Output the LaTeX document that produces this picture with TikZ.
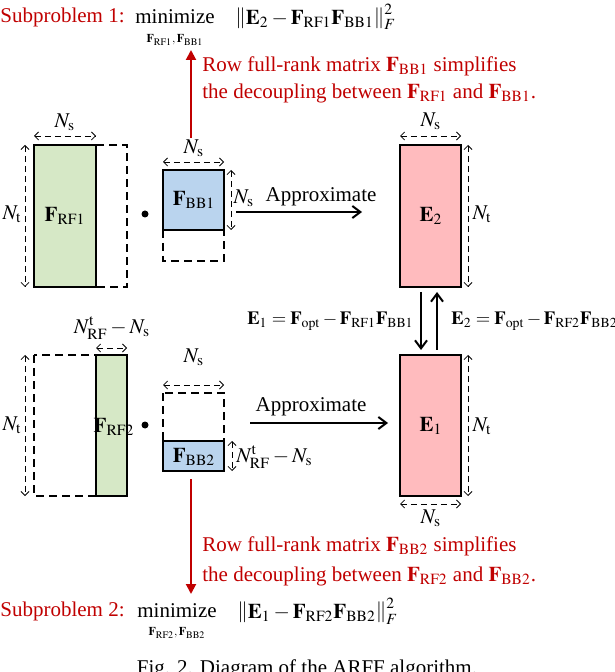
\documentclass[tikz,border=0pt]{standalone}
\usepackage{mathptmx}
\usepackage[no-math]{fontspec}
\setmainfont{Liberation Serif}
\usetikzlibrary{arrows.meta}
\definecolor{myred}{RGB}{192,0,0}
\definecolor{mygreen}{RGB}{214,232,198}
\definecolor{myblue}{RGB}{186,212,238}
\definecolor{mypink}{RGB}{255,187,190}
\newcommand{\bF}{\mathbf{F}}
\newcommand{\bE}{\mathbf{E}}
\newcommand{\rs}[1]{_{\mathrm{#1}}}
\begin{document}
\begin{tikzpicture}[x=0.5pt,y=-0.5pt,font=\fontsize{10.5}{12}\selectfont,
  mat/.style={draw=black,line width=1pt},
  dsh/.style={draw=black,line width=1pt,dash pattern=on 4pt off 2.5pt},
  dim/.style={densely dashed,line width=0.4pt,{Straight Barb[length=2pt]}-{Straight Barb[length=2pt]}},
  big/.style={line width=1pt,-{Straight Barb[length=4pt,width=6pt]}},
  rarr/.style={myred,line width=1pt,-{Triangle[length=5pt,width=5pt]}},
  lbl/.style={inner sep=0pt},
  eq/.style={inner sep=0pt,font=\fontsize{9.3}{11}\selectfont}]
\useasboundingbox (0,0) rectangle (614,672);
\clip (0,0) rectangle (614,672);
% top
\draw[dsh] (96,145) rectangle (127,287);
\draw[mat,fill=mygreen] (34,145) rectangle (96,287);
\node[lbl] (frf1) at (65,216) {$\bF\rs{RF1}$};
\draw[dim] (34,136) -- (96,136);
\node[lbl] at (65,122) {$N\rs{s}$};
\draw[dim] (25,145) -- (25,287);
\node[lbl] at (12,214) {$N\rs{t}$};
\fill (145,214) circle (3.5);
\draw[dsh] (163,230) rectangle (224,261);
\draw[mat,fill=myblue] (163,170) rectangle (224,230);
\node[lbl] (fbb1) at (194,200) {$\bF\rs{BB1}$};
\draw[dim] (163,162) -- (224,162);
\node[lbl] at (194,148) {$N\rs{s}$};
\draw[dim] (231,170) -- (231,230);
\node[lbl] at (244,198) {$N\rs{s}$};
\coordinate (a1s) at (236,212); \coordinate (a1e) at (362,212);
\draw[big] (a1s) -- (a1e);
\node[lbl] at (321,197) {Approximate};
\draw[mat,fill=mypink] (400,145) rectangle (461,287);
\node[lbl] (e2) at (431,216) {$\bE_2$};
\draw[dim] (400,136) -- (461,136);
\node[lbl] at (431,121) {$N\rs{s}$};
\draw[dim] (468,145) -- (468,287);
\node[lbl] at (482,214) {$N\rs{t}$};
% bottom
\draw[dsh] (34,355) rectangle (96,496);
\draw[mat,fill=mygreen] (96,355) rectangle (127,496);
\node[lbl] (frf2) at (114,427) {$\bF\rs{RF2}$};
\draw[dim] (25,355) -- (25,496);
\node[lbl] at (12,425) {$N\rs{t}$};
\draw[dim] (96,348) -- (127,348);
\node[lbl] at (112,328) {$N\rs{RF}^{\mathrm{t}}-N\rs{s}$};
\fill (145,425) circle (3.5);
\draw[dsh] (163,393) rectangle (224,441);
\draw[mat,fill=myblue] (163,441) rectangle (224,471);
\node[lbl] (fbb2) at (194,457) {$\bF\rs{BB2}$};
\draw[dim] (163,385) -- (224,385);
\node[lbl] at (194,357) {$N\rs{s}$};
\draw[dim] (232,441) -- (232,471);
\node[lbl,anchor=west] at (236,457) {$N\rs{RF}^{\mathrm{t}}-N\rs{s}$};
\coordinate (a2s) at (250,423); \coordinate (a2e) at (388,423);
\draw[big] (a2s) -- (a2e);
\node[lbl] at (311,407) {Approximate};
\draw[mat,fill=mypink] (400,355) rectangle (461,496);
\node[lbl] (e1) at (431,426) {$\bE_1$};
\draw[dim] (468,355) -- (468,496);
\node[lbl] at (482,426) {$N\rs{t}$};
\draw[dim] (400,504) -- (461,504);
\node[lbl] at (431,518) {$N\rs{s}$};
% middle arrows
\coordinate (d1) at (421,292); \coordinate (d2) at (421,350);
\coordinate (u1) at (437,350); \coordinate (u2) at (437,292);
\draw[big] (d1) -- (d2);
\draw[big] (u1) -- (u2);
\node[eq,anchor=east] at (414,321) {$\bE_1=\bF\rs{opt}-\bF\rs{RF1}\bF\rs{BB1}$};
\node[eq,anchor=west] at (451,321) {$\bE_2=\bF\rs{opt}-\bF\rs{RF2}\bF\rs{BB2}$};
% red
\coordinate (r1s) at (191,138); \coordinate (r1e) at (191,50);
\draw[rarr] (r1s) -- (r1e);
\node[lbl,anchor=west,myred] at (202,66) {Row full-rank matrix $\bF\rs{BB1}$ simplifies};
\node[lbl,anchor=west,myred] at (202,93) {the decoupling between $\bF\rs{RF1}$ and $\bF\rs{BB1}$.};
\coordinate (r2s) at (191,479); \coordinate (r2e) at (191,594);
\draw[rarr] (r2s) -- (r2e);
\node[lbl,anchor=west,myred] at (202,546) {Row full-rank matrix $\bF\rs{BB2}$ simplifies};
\node[lbl,anchor=west,myred] at (202,576) {the decoupling between $\bF\rs{RF2}$ and $\bF\rs{BB2}$.};
\node[lbl,anchor=west,myred] at (0,17) {Subproblem 1:};
\node[lbl] at (175,17) {minimize};
\node[lbl,font=\fontsize{6}{7}\selectfont] at (175,40) {$\bF\rs{RF1},\bF\rs{BB1}$};
\node[lbl,anchor=west] at (235,17) {$\left\|\bE_2-\bF\rs{RF1}\bF\rs{BB1}\right\|_F^2$};
\node[lbl,anchor=west,myred] at (0,611) {Subproblem 2:};
\node[lbl] at (177,611) {minimize};
\node[lbl,font=\fontsize{6}{7}\selectfont] at (177,633) {$\bF\rs{RF2},\bF\rs{BB2}$};
\node[lbl,anchor=west] at (237,611) {$\left\|\bE_1-\bF\rs{RF2}\bF\rs{BB2}\right\|_F^2$};
\node[lbl,anchor=north] at (307,659) {Fig. 2. Diagram of the ARFF algorithm.};
\end{tikzpicture}
\end{document}
